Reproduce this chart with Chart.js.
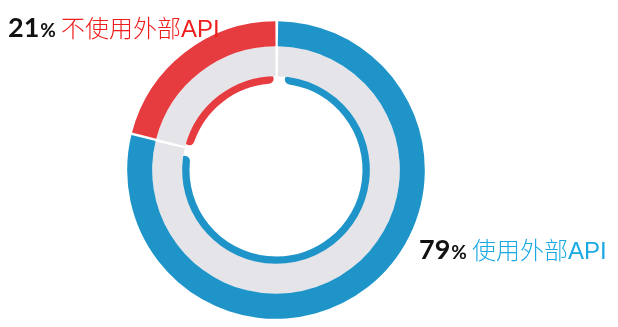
<!DOCTYPE html>
<html>
<head>
<meta charset="utf-8">
<script src="https://cdn.jsdelivr.net/npm/chart.js@4"></script>
<style>
  html, body { margin: 0; padding: 0; background: #fff; }
</style>
</head>
<body>
<canvas id="donut" width="618" height="327"></canvas>
<script>
const categories = ['使用外部API', '不使用外部API'];
const values = [79, 21];
const ringColors = ['#1e94c9', '#e63b3f'];
const textColors = ['#1aa9e3', '#f01d1d'];
const labelPos = [[419, 259], [8, 37]];

// percentages + names drawn next to the ring
const labelsPlugin = {
  id: 'labelsPlugin',
  afterDraw(chart) {
    const ctx = chart.ctx;
    ctx.save();
    ctx.textBaseline = 'alphabetic';
    categories.forEach((cat, i) => {
      let [x, y] = labelPos[i];
      ctx.fillStyle = '#111';
      ctx.font = 'bold 27px Lato';
      ctx.fillText(values[i], x, y);
      x += ctx.measureText(String(values[i])).width + 1;
      ctx.font = 'bold 19px Lato';
      ctx.fillText('%', x, y);
      x += ctx.measureText('%').width + 5;
      ctx.font = '300 24px "Liberation Sans", "Noto Sans CJK SC"';
      ctx.fillStyle = textColors[i];
      ctx.fillText(cat, x, y);
    });
    ctx.restore();
  }
};

const ctx = document.getElementById('donut').getContext('2d');
new Chart(ctx, {
  type: 'doughnut',
  data: {
    labels: categories,
    datasets: [
      { data: values, backgroundColor: ringColors, borderWidth: 0, spacing: 1.6, weight: 25 },
      { data: values, backgroundColor: '#e5e5e9', borderWidth: 0, spacing: 1.6, weight: 30 },
      { data: values, backgroundColor: ringColors, borderWidth: 0, spacing: 7, borderRadius: 5, weight: 10 }
    ]
  },
  options: {
    responsive: false,
    animation: false,
    radius: 148,
    cutout: '56.1%',
    layout: { padding: { left: 0, right: 66, top: 13, bottom: 0 } },
    plugins: {
      legend: { display: false },
      tooltip: { enabled: false }
    }
  },
  plugins: [labelsPlugin]
});
</script>
</body>
</html>
